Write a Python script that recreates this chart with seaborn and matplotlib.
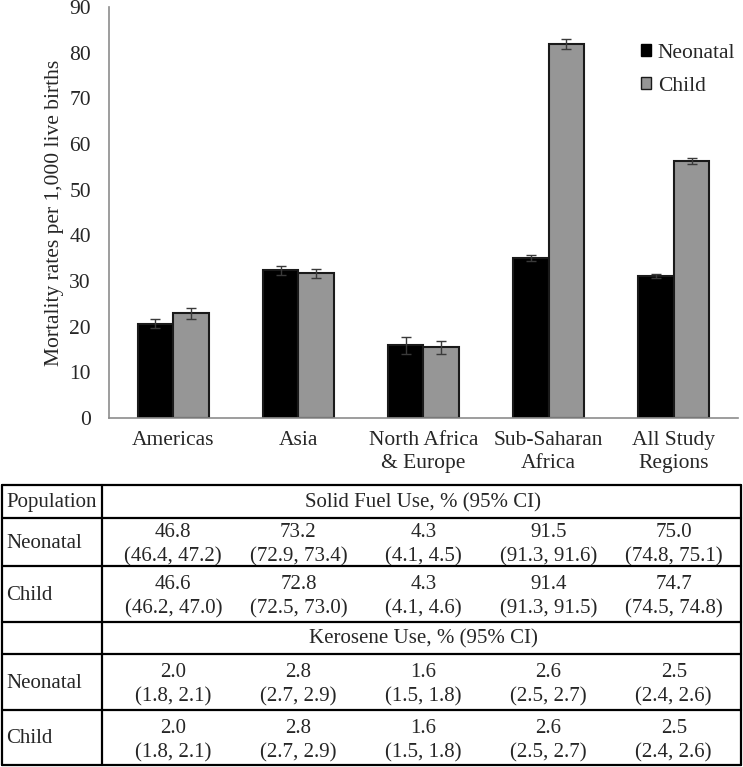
import matplotlib
matplotlib.use("Agg")
import pandas as pd
import matplotlib.pyplot as plt
import matplotlib.transforms as mtransforms
from matplotlib.lines import Line2D
from matplotlib.patches import Patch
import seaborn as sns

# bar chart data
regions = ["Americas", "Asia", "North Africa\n& Europe", "Sub-Saharan\nAfrica", "All Study\nRegions"]
neonatal = [20.6, 32.3, 15.9, 35.0, 31.1]
child = [22.9, 31.7, 15.5, 81.8, 56.3]
neonatal_err = [1.0, 1.0, 1.8, 0.6, 0.4]
child_err = [1.2, 1.0, 1.4, 1.1, 0.6]

# table data
solid_neonatal = ["46.8\n(46.4, 47.2)", "73.2\n(72.9, 73.4)", "4.3\n(4.1, 4.5)", "91.5\n(91.3, 91.6)", "75.0\n(74.8, 75.1)"]
solid_child = ["46.6\n(46.2, 47.0)", "72.8\n(72.5, 73.0)", "4.3\n(4.1, 4.6)", "91.4\n(91.3, 91.5)", "74.7\n(74.5, 74.8)"]
kero_neonatal = ["2.0\n(1.8, 2.1)", "2.8\n(2.7, 2.9)", "1.6\n(1.5, 1.8)", "2.6\n(2.5, 2.7)", "2.5\n(2.4, 2.6)"]
kero_child = ["2.0\n(1.8, 2.1)", "2.8\n(2.7, 2.9)", "1.6\n(1.5, 1.8)", "2.6\n(2.5, 2.7)", "2.5\n(2.4, 2.6)"]

sns.set_theme(style="white")
plt.rcParams["font.family"] = ["Liberation Serif", "DejaVu Serif"]
FS = 15.5

df = pd.DataFrame({
    "region": regions * 2,
    "rate": neonatal + child,
    "err": neonatal_err + child_err,
    "group": ["Neonatal"] * len(regions) + ["Child"] * len(regions),
})

W, H = 743, 767
fig = plt.figure(figsize=(W / 100, H / 100), dpi=100)
ax = fig.add_axes([109 / W, 1 - 418 / H, 629 / W, 411 / H])

colors = {"Neonatal": "black", "Child": "#969696"}
sns.barplot(data=df, x="region", y="rate", hue="group", palette=colors,
            width=0.57, errorbar=None, edgecolor="#1a1a1a", linewidth=1.5,
            ax=ax, legend=False)

# error bars from bar positions
for cont, errs in zip(ax.containers, [neonatal_err, child_err]):
    for bar, e in zip(cont, errs):
        xc = bar.get_x() + bar.get_width() / 2
        ax.errorbar(xc, bar.get_height(), yerr=e, color="#3a3a3a",
                    capsize=3.5, elinewidth=1, capthick=1, fmt="none")

ax.set_ylim(0, 90)
ax.set_yticks(range(0, 91, 10))
ax.set_xlabel("")
ax.set_ylabel("Mortality rates per 1,000 live births", fontsize=FS, labelpad=4)
for s in ["top", "right"]:
    ax.spines[s].set_visible(False)
for s in ["left", "bottom"]:
    ax.spines[s].set_color("#8c8c8c")
    ax.spines[s].set_linewidth(1.2)
ax.tick_params(axis="y", length=5, width=1, color="#8c8c8c", direction="out", pad=8, labelsize=FS)
ax.tick_params(axis="x", length=0, pad=9, labelsize=FS)
for lbl in ax.get_xticklabels():
    lbl.set_linespacing(1.3)

handles = [Patch(facecolor="black", edgecolor="black", label="Neonatal"),
           Patch(facecolor="#969696", edgecolor="#1a1a1a", label="Child")]
ax.legend(handles=handles, loc="upper left", bbox_to_anchor=(0.845, 0.91),
          frameon=False, fontsize=FS, handlelength=0.5, handleheight=0.5,
          handletextpad=0.3, labelspacing=0.65, borderpad=0, borderaxespad=0)

# table below the chart
rows_y = [485, 518, 566, 622, 654, 710, 765]
x_left, x_div, x_right = 2, 102, 741

def fy(p):
    return 1 - p / H

def hline(y, x0=x_left, x1=x_right):
    fig.add_artist(Line2D([x0 / W, x1 / W], [fy(y), fy(y)], transform=fig.transFigure,
                          color="black", lw=1.6))

def vline(x, y0, y1):
    fig.add_artist(Line2D([x / W, x / W], [fy(y0), fy(y1)], transform=fig.transFigure,
                          color="black", lw=1.6))

for y in rows_y:
    hline(y)
vline(x_left, rows_y[0], rows_y[-1])
vline(x_div, rows_y[0], rows_y[-1])
vline(x_right, rows_y[0], rows_y[-1])

blend = mtransforms.blended_transform_factory(ax.transData, fig.transFigure)
row_labels = ["Population", "Neonatal", "Child", "", "Neonatal", "Child"]
row_values = [None, solid_neonatal, solid_child, None, kero_neonatal, kero_child]
headers = {0: "Solid Fuel Use, % (95% CI)", 3: "Kerosene Use, % (95% CI)"}

TFS = 15
for r in range(len(row_labels)):
    yc = fy((rows_y[r] + rows_y[r + 1]) / 2 + 1)
    fig.text(6 / W, yc, row_labels[r], ha="left", va="center", fontsize=TFS)
    if r in headers:
        ax.text(2, yc, headers[r], transform=blend, ha="center", va="center", fontsize=TFS)
    else:
        for i, v in enumerate(row_values[r]):
            ax.text(i, fy((rows_y[r] + rows_y[r + 1]) / 2 + 3), v, transform=blend,
                    ha="center", va="center", fontsize=TFS, linespacing=1.35)

fig.savefig("out.png", dpi=100)
